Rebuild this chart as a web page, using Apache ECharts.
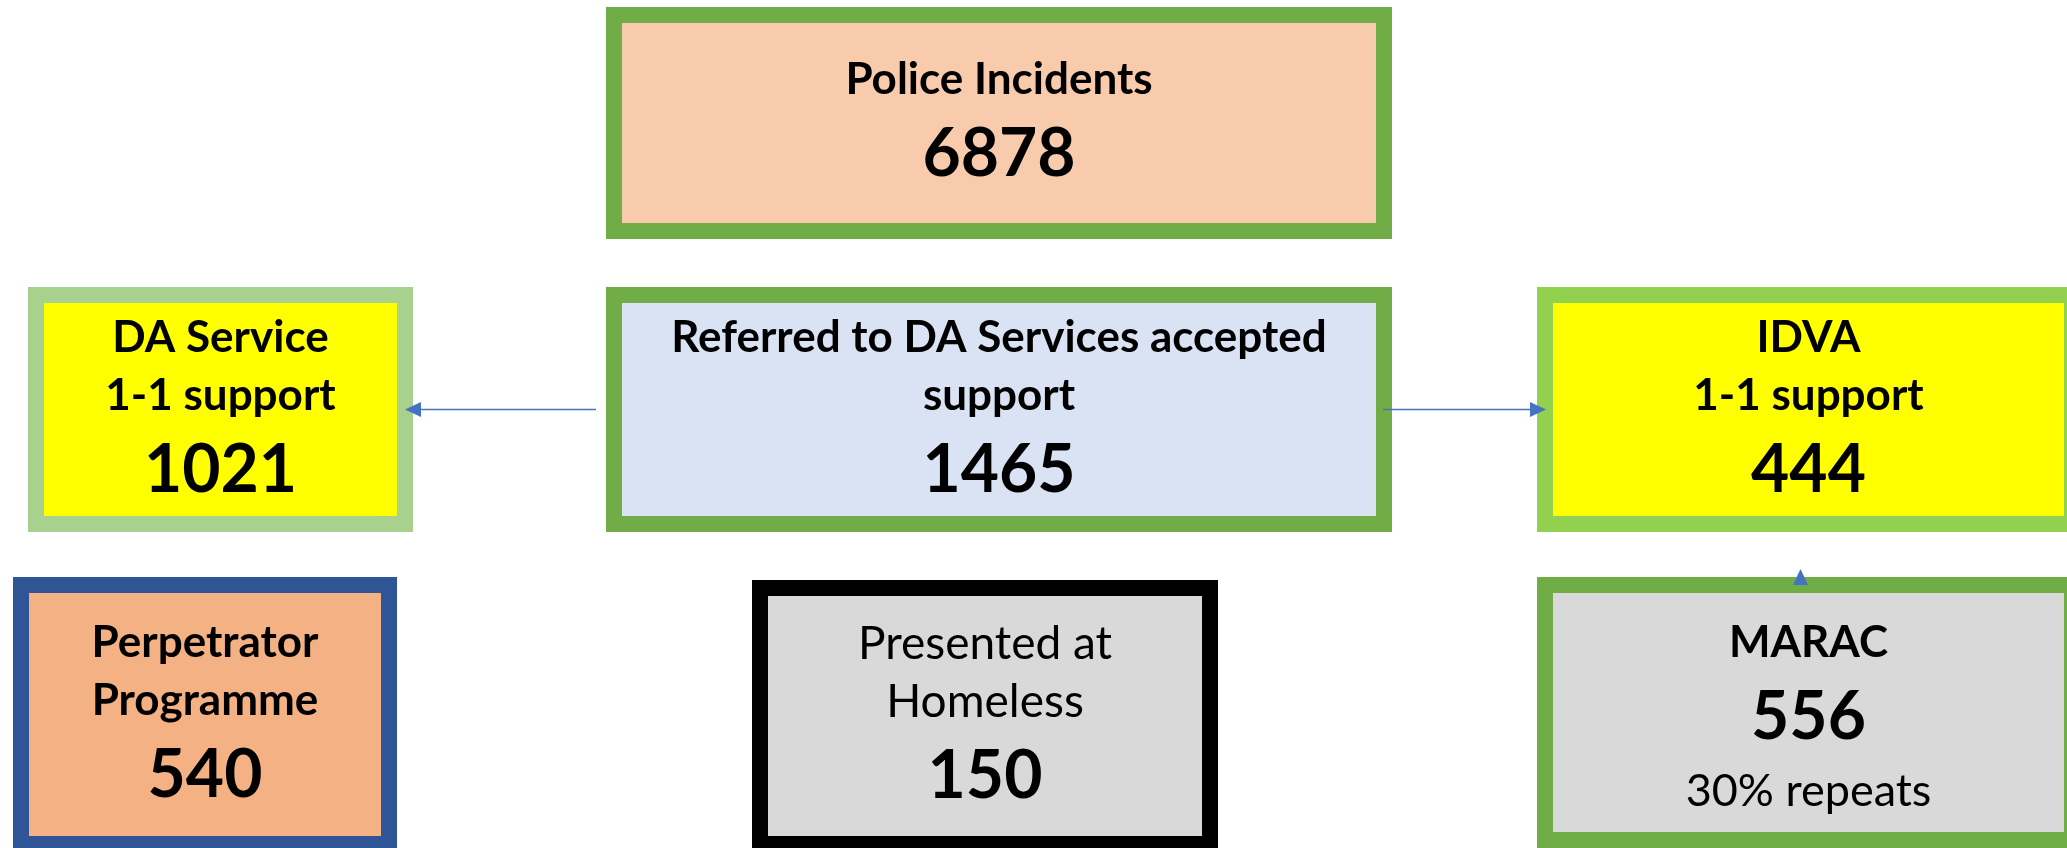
<!DOCTYPE html>
<html>
<head>
<meta charset="utf-8">
<script src="https://cdn.jsdelivr.net/npm/echarts@6/dist/echarts.min.js"></script>
<style>
html, body { margin: 0; padding: 0; background: #fff; }
#chart { width: 2067px; height: 848px; }
</style>
</head>
<body>
<div id="chart"></div>
<script>
// box texts and counts
const boxTitles = [
    "Police Incidents",
    "DA Service\n1-1 support",
    "Referred to DA Services accepted\nsupport",
    "IDVA\n1-1 support",
    "Perpetrator\nProgramme",
    "Presented at\nHomeless",
    "MARAC",
]
const boxValues = [6878, 1021, 1465, 444, 540, 150, 556]
const boxNotes = ["", "", "", "", "", "", "30% repeats"]

// arrows, by box index
const linkFrom = [2, 2, 6]
const linkTo = [1, 3, 3]

// where each box sits on the (hidden) pixel axes, and how it looks
const layout = [
    { x0: 606, y0: 7, x1: 1392, y1: 239, fill: "#F8CBAD", stroke: "#70AD47", textY: 80 },
    { x0: 28, y0: 287, x1: 413, y1: 532, fill: "#FFFF00", stroke: "#A9D18E", textY: 338 },
    { x0: 606, y0: 287, x1: 1392, y1: 532, fill: "#DAE3F3", stroke: "#70AD47", textY: 338 },
    { x0: 1537, y0: 287, x1: 2080, y1: 532, fill: "#FFFF00", stroke: "#92D050", textY: 338 },
    { x0: 13, y0: 577, x1: 397, y1: 852, fill: "#F4B183", stroke: "#2F5597", textY: 643 },
    { x0: 752, y0: 580, x1: 1218, y1: 852, fill: "#D9D9D9", stroke: "#000000", textY: 644, titleWeight: "normal" },
    { x0: 1537, y0: 577, x1: 2080, y1: 848, fill: "#D9D9D9", stroke: "#70AD47", textY: 643 },
]

const FONT = "Lato, 'Liberation Sans', sans-serif"
const BORDER = 16
const ARROW = "#4472C4"

function label(x, y, text, size, weight) {
    return {
        type: "text",
        style: {
            x: x,
            y: y,
            text: text,
            fill: "#000",
            font: weight + " " + size + "px " + FONT,
            align: "center",
            verticalAlign: "middle",
        },
    }
}

function renderBox(params, api) {
    const i = api.value(0)
    const b = layout[i]
    const p0 = api.coord([b.x0, b.y0])
    const p1 = api.coord([b.x1, b.y1])
    const children = [
        {
            type: "rect",
            shape: {
                x: p0[0] + BORDER / 2,
                y: p0[1] + BORDER / 2,
                width: p1[0] - p0[0] - BORDER,
                height: p1[1] - p0[1] - BORDER,
            },
            style: { fill: b.fill, stroke: b.stroke, lineWidth: BORDER },
        },
    ]
    const cx = (p0[0] + p1[0]) / 2
    const weight = b.titleWeight || "bold"
    let y = api.coord([0, b.textY])[1]
    boxTitles[i].split("\n").forEach((t, k) => {
        if (k > 0) y += 58
        children.push(label(cx, y, t, weight === "bold" ? 44 : 46, weight))
    })
    y += 75
    children.push(label(cx, y, String(boxValues[i]), 66, "bold"))
    if (boxNotes[i]) {
        y += 73
        children.push(label(cx, y, boxNotes[i], 45, "normal"))
    }
    return { type: "group", children: children }
}

function renderLink(params, api) {
    const k = api.value(0)
    const s = layout[linkFrom[k]]
    const t = layout[linkTo[k]]
    let a, b
    if (t.x1 <= s.x0) {
        const y = (s.y0 + s.y1) / 2
        a = [s.x0 - 10, y]
        b = [t.x1 - 8, y]
    } else if (t.x0 >= s.x1) {
        const y = (s.y0 + s.y1) / 2
        a = [s.x1 - 9, y]
        b = [t.x0 + 9, y]
    } else {
        // short connector up from the top edge, only its head shows
        const x = (s.x0 + s.x1) / 2 - 8
        a = [x, s.y0]
        b = [x, s.y0 - 8]
    }
    const pa = api.coord(a)
    const pb = api.coord(b)
    const dx = pb[0] - pa[0]
    const dy = pb[1] - pa[1]
    const len = Math.sqrt(dx * dx + dy * dy) || 1
    const ux = dx / len
    const uy = dy / len
    const headL = 16
    const headW = 7.5
    const bx = pb[0] - ux * headL
    const by = pb[1] - uy * headL
    const children = [
        {
            type: "polygon",
            shape: {
                points: [
                    [pb[0], pb[1]],
                    [bx - uy * headW, by + ux * headW],
                    [bx + uy * headW, by - ux * headW],
                ],
            },
            style: { fill: ARROW },
        },
    ]
    if (len > headL) {
        children.unshift({
            type: "line",
            shape: { x1: pa[0], y1: pa[1], x2: bx, y2: by },
            style: { stroke: ARROW, lineWidth: 1.5 },
        })
    }
    return { type: "group", children: children }
}

const chart = echarts.init(document.getElementById("chart"), null, { renderer: "canvas" })

const option = {
    backgroundColor: "#fff",
    animation: false,
    grid: { left: 0, right: 0, top: 0, bottom: 0 },
    xAxis: { type: "value", min: 0, max: 2067, show: false },
    yAxis: { type: "value", min: 0, max: 848, inverse: true, show: false },
    series: [
        {
            type: "custom",
            name: "boxes",
            clip: false,
            renderItem: renderBox,
            data: boxValues.map((v, i) => [i, v]),
            z: 1,
        },
        {
            type: "custom",
            name: "links",
            clip: false,
            renderItem: renderLink,
            data: linkFrom.map((f, k) => [k, f, linkTo[k]]),
            z: 2,
        },
    ],
}

chart.setOption(option, true)
</script>
</body>
</html>
